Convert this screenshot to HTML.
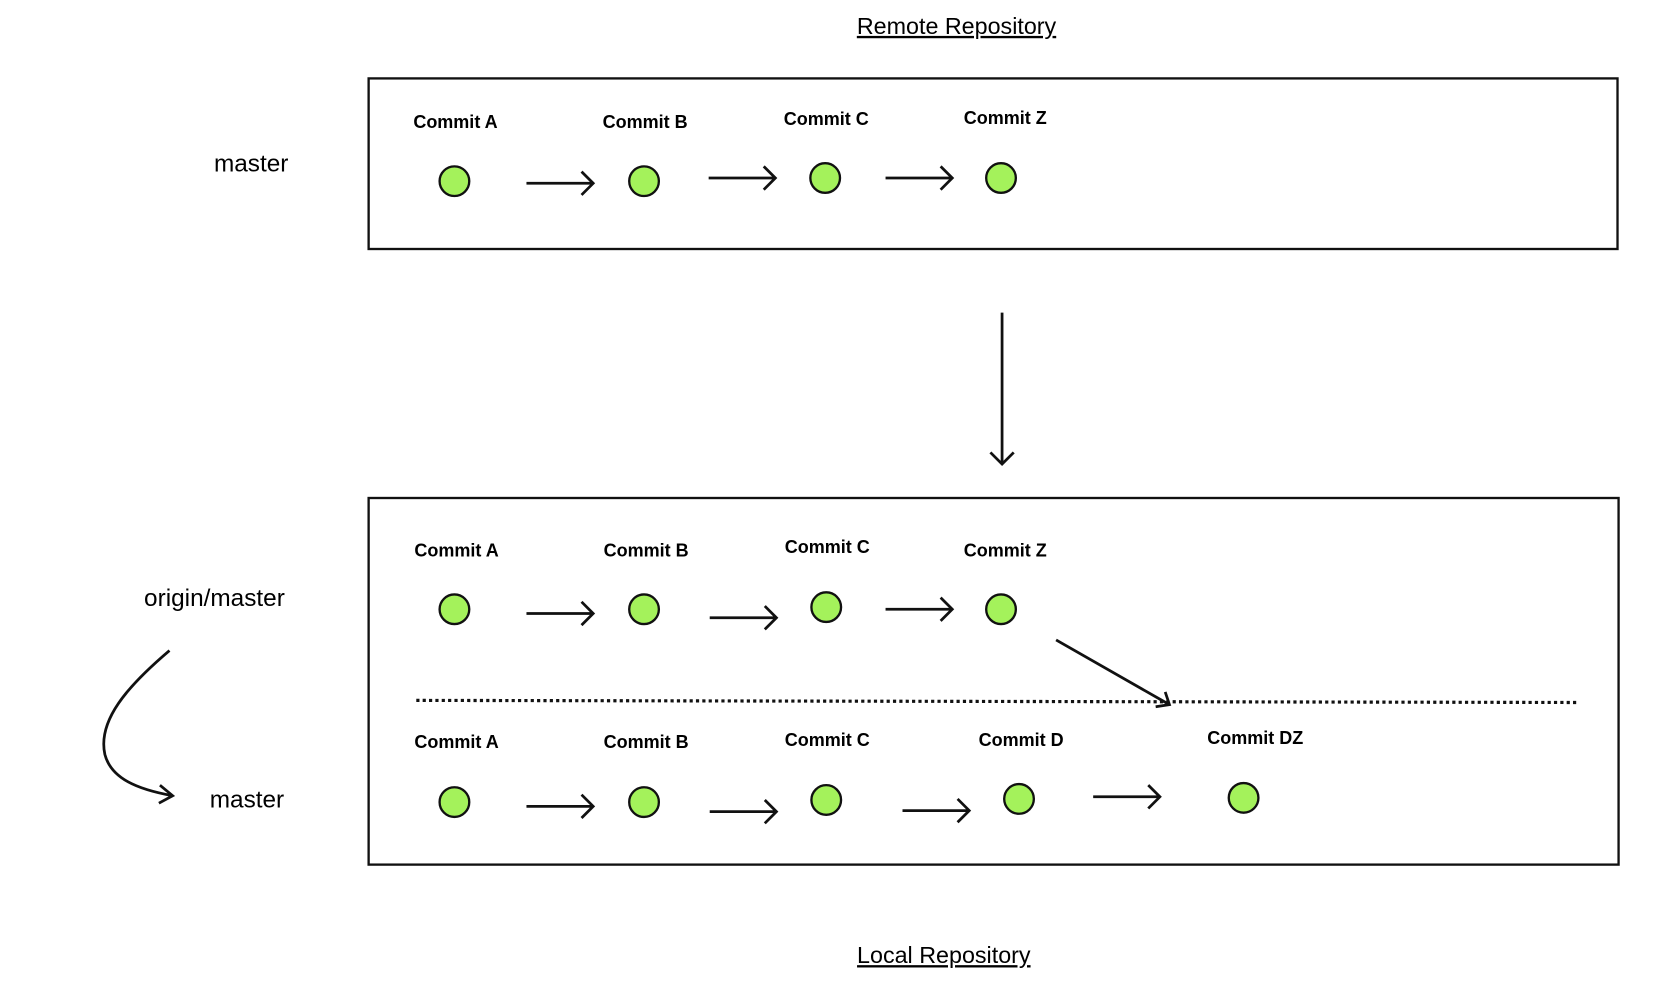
<!DOCTYPE html>
<html><head><meta charset="utf-8"><style>
html,body{margin:0;padding:0;background:#fff;width:1662px;height:996px;overflow:hidden}
svg{display:block}
.c{font-family:"Liberation Sans",Arial,sans-serif;font-weight:bold;font-size:17px;text-anchor:middle}
.l{font-family:"Liberation Sans",Arial,sans-serif;font-size:23px}
.t{font-family:"Liberation Sans",Arial,sans-serif;font-size:22px}
circle{fill:#a4f25b;stroke:#111;stroke-width:2.2}
.a{stroke:#111;stroke-width:2.6;fill:none}
</style></head><body>
<svg width="1662" height="996" viewBox="0 0 1569 940" preserveAspectRatio="none">
<text class="t" x="903" y="32" text-anchor="middle" text-decoration="underline">Remote Repository</text>
<text class="t" x="891" y="909" text-anchor="middle" text-decoration="underline">Local Repository</text>
<rect x="348" y="74" width="1179" height="161" fill="none" stroke="#111" stroke-width="2.2"/>
<rect x="348" y="470" width="1180" height="346" fill="none" stroke="#111" stroke-width="2.2"/>
<text class="l" x="202" y="162">master</text>
<text class="l" x="136" y="572">origin/master</text>
<text class="l" x="198" y="762">master</text>
<text class="c" x="430" y="121">Commit A</text>
<text class="c" x="609" y="121">Commit B</text>
<text class="c" x="780" y="118">Commit C</text>
<text class="c" x="949" y="117">Commit Z</text>
<circle cx="429" cy="171" r="14"/><circle cx="608" cy="171" r="14"/><circle cx="779" cy="168" r="14"/><circle cx="945" cy="168" r="14"/>
<path class="a" d="M497 173H560M549 162L560 173L549 184"/>
<path class="a" d="M669 168H732M721 157L732 168L721 179"/>
<path class="a" d="M836 168H899M888 157L899 168L888 179"/>
<path class="a" d="M946 295V438M935 427L946 438L957 427"/>
<text class="c" x="431" y="525">Commit A</text>
<text class="c" x="610" y="525">Commit B</text>
<text class="c" x="781" y="522">Commit C</text>
<text class="c" x="949" y="525">Commit Z</text>
<circle cx="429" cy="575" r="14"/><circle cx="608" cy="575" r="14"/><circle cx="780" cy="573" r="14"/><circle cx="945" cy="575" r="14"/>
<path class="a" d="M497 579H560M549 568L560 579L549 590"/>
<path class="a" d="M670 583H733M722 572L733 583L722 594"/>
<path class="a" d="M836 575H899M888 564L899 575L888 586"/>
<path class="a" d="M997 604L1104 665M1091 667L1104 665L1100 653"/>
<line x1="393" y1="661" x2="1490" y2="663" stroke="#111" stroke-width="3" stroke-dasharray="3,3"/>
<text class="c" x="431" y="706">Commit A</text>
<text class="c" x="610" y="706">Commit B</text>
<text class="c" x="781" y="704">Commit C</text>
<text class="c" x="964" y="704">Commit D</text>
<text class="c" x="1185" y="702">Commit DZ</text>
<circle cx="429" cy="757" r="14"/><circle cx="608" cy="757" r="14"/><circle cx="780" cy="755" r="14"/><circle cx="962" cy="754" r="14"/><circle cx="1174" cy="753" r="14"/>
<path class="a" d="M497 761H560M549 750L560 761L549 772"/>
<path class="a" d="M670 766H733M722 755L733 766L722 777"/>
<path class="a" d="M852 765H915M904 754L915 765L904 776"/>
<path class="a" d="M1032 752H1095M1084 741L1095 752L1084 763"/>
<path class="a" d="M160 614C120 648 92 680 99 712C105 735 130 745 163 751M151 741L163 751L150 758"/>
</svg>
</body></html>
